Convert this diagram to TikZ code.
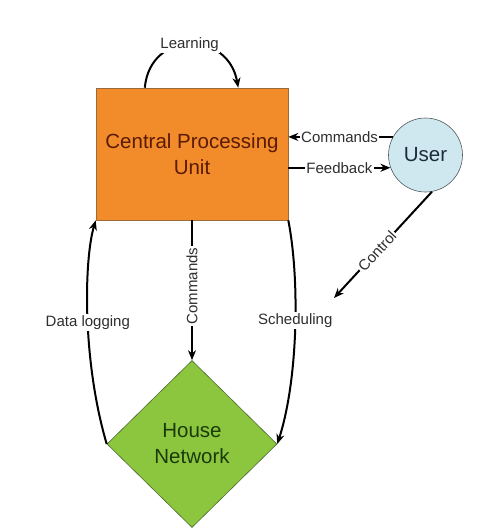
\documentclass[tikz,border=0pt]{standalone}
\usepackage{fontspec}
\setmainfont{Liberation Sans}
\usetikzlibrary{shapes.geometric,arrows.meta,calc}
\definecolor{cpuorange}{HTML}{F28C2A}
\definecolor{cpuedge}{HTML}{9A6A3A}
\definecolor{cputext}{HTML}{5A1A05}
\definecolor{userblue}{HTML}{CFE8F0}
\definecolor{useredge}{HTML}{505A60}
\definecolor{usertext}{HTML}{1C2C3C}
\definecolor{hngreen}{HTML}{8CC63F}
\definecolor{hnedge}{HTML}{4A6A30}
\definecolor{hntext}{HTML}{1A3A0A}
\definecolor{lbl}{HTML}{2E2E2E}
\tikzset{
  bigtext/.style={font=\fontsize{20.5}{26}\selectfont, align=center},
  conn/.style={line width=2pt, black, -{Stealth[length=10pt,width=8pt]}},
  lab/.style={fill=white, inner sep=1.5pt, text=lbl, font=\fontsize{15}{16}\selectfont},
}
\begin{document}
\begin{tikzpicture}[x=1pt,y=-1pt]
\useasboundingbox[fill=white] (0,0) rectangle (480,528);
\node[bigtext, text=cputext, draw=cpuedge, fill=cpuorange, line width=0.6pt,
      minimum width=192pt, minimum height=132pt, inner sep=0pt] (cpu) at (192,154)
      {Central Processing\\Unit};
\node[bigtext, text=usertext, draw=useredge, fill=userblue, line width=0.6pt,
      circle, minimum size=74pt, inner sep=0pt] (user) at (425.5,155) {User};
\node[bigtext, text=hntext, draw=hnedge, fill=hngreen, line width=0.6pt,
      diamond, minimum width=170pt, minimum height=167pt, inner sep=0pt] (hn) at (192,444)
      {House\\Network};
% Learning
\coordinate (lstart) at ($(cpu.north west)!0.255!(cpu.north east)$);
\coordinate (lend) at ($(cpu.north west)!0.74!(cpu.north east)$);
\draw[conn] (lstart) .. controls (150,30) and (228,30) .. (lend)
  node[lab, pos=0.5] (learn) {Learning};
% Commands user -> cpu
\draw[conn] (user.151) -- (cpu.east |- user.151)
  node[lab, pos=0.51] (cmd1) {Commands};
% Feedback cpu -> user
\draw[conn] (cpu.east |- user.200) -- (user.200)
  node[lab, pos=0.5] (fb) {Feedback};
% Commands cpu -> house
\draw[conn] (cpu.south) -- (hn.north)
  node[lab, pos=0.47, rotate=90] (cmd2) {Commands};
% Data logging
\draw[conn] (hn.west) .. controls (82,360) and (84,260) .. (cpu.south west)
  node[lab, pos=0.47] (dl) {Data logging};
% Scheduling
\draw[conn] (cpu.south east) .. controls (300,280) and (298,380) .. (hn.east)
  node[lab, pos=0.46] (sched) {Scheduling};
% Control
\coordinate (ctrlend) at (334,298);
\draw[conn] (user.-80) -- (ctrlend)
  node[lab, pos=0.56, sloped] (ctrl) {Control};
\end{tikzpicture}
\end{document}
